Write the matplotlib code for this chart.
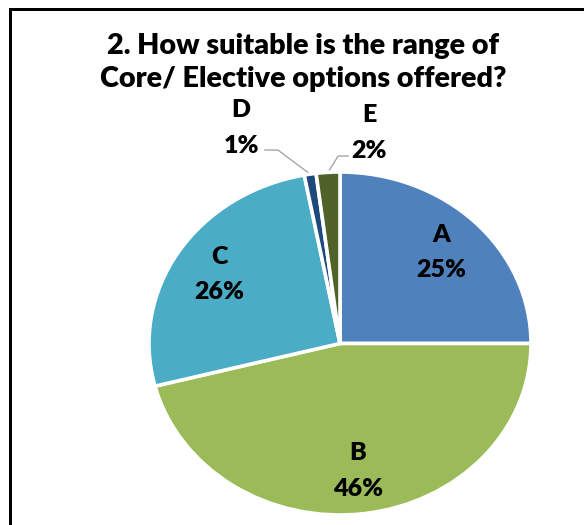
import numpy as np
import matplotlib
matplotlib.use("Agg")
import matplotlib.pyplot as plt
from matplotlib.lines import Line2D

# ---- data ----
categories = ["A", "B", "C", "D", "E"]
values = [25, 46, 26, 1, 2]
colors = ["#4F81BD", "#9BBB59", "#4BACC6", "#1F497D", "#4F6228"]
title_lines = ["2. How suitable is the range of", "Core/ Elective options offered?"]

W, H = 584, 525
fig = plt.figure(figsize=(W / 100, H / 100), dpi=100)
fig.patch.set_facecolor("white")

# axes spanning the (elliptical) pie bounding box
left, right, top, bottom = 149, 531, 172, 515
ax = fig.add_axes([left / W, (H - bottom) / H, (right - left) / W, (bottom - top) / H])
wedges, _ = ax.pie(values, colors=colors, startangle=90, counterclock=False,
                   wedgeprops=dict(edgecolor="white", linewidth=2.6))
ax.set_aspect("auto")
ax.set_xlim(-1, 1)
ax.set_ylim(-1, 1)
ax.axis("off")

FONT = "Lato"
WEIGHT = "heavy"
renderer = fig.canvas.get_renderer()


def fit_size(text, target_px, guess=14):
    t = fig.text(0, 0, text, fontsize=guess, fontweight=WEIGHT, family=FONT)
    w = t.get_window_extent(renderer).width
    t.remove()
    return guess * target_px / w


lab_fs = fit_size("25%", 50)
ttl_fs = fit_size(title_lines[0], 392)

# inside labels
for w, cat, v in zip(wedges, categories, values):
    ang = np.deg2rad((w.theta1 + w.theta2) / 2)
    if v >= 10:
        r = 0.75
        ax.text(r * np.cos(ang), r * np.sin(ang), f"{cat}\n{v}%", ha="center", va="center",
                fontsize=lab_fs, fontweight=WEIGHT, family=FONT, linespacing=1.75)

# outside labels with leader lines (D, E)
outside = {"D": ((-0.518, 1.256), (-0.393, 1.128), (-0.325, 1.128)),
           "E": ((0.152, 1.227), (0.042, 1.093), (-0.010, 1.093))}
for w, cat, v in zip(wedges, categories, values):
    if cat in outside:
        (tx, ty), p0, p1 = outside[cat]
        ang = np.deg2rad((w.theta1 + w.theta2) / 2)
        ex, ey = np.cos(ang), np.sin(ang)
        ax.plot([p0[0], p1[0], ex], [p0[1], p1[1], ey], color="#A6A6A6", lw=1.0,
                clip_on=False, zorder=0)
        ax.text(tx, ty, f"{cat}\n{v}%", ha="center", va="center", fontsize=lab_fs,
                fontweight=WEIGHT, family=FONT, linespacing=1.75, clip_on=False)

# title
fig.text(303 / W, 1 - 46 / H, title_lines[0], ha="center", va="center",
         fontsize=ttl_fs, fontweight=WEIGHT, family=FONT)
fig.text(303 / W, 1 - 79 / H, title_lines[1], ha="center", va="center",
         fontsize=ttl_fs, fontweight=WEIGHT, family=FONT)

# chart border (left and top visible)
lw_pt = 3 * 72 / 100
fig.add_artist(Line2D([10 / W, 10 / W], [1 - 9 / H, 0], transform=fig.transFigure,
                      color="black", lw=lw_pt, solid_capstyle="projecting"))
fig.add_artist(Line2D([10 / W, 1], [1 - 9 / H, 1 - 9 / H], transform=fig.transFigure,
                      color="black", lw=lw_pt, solid_capstyle="projecting"))

fig.savefig("out.png", dpi=100, facecolor="white")
